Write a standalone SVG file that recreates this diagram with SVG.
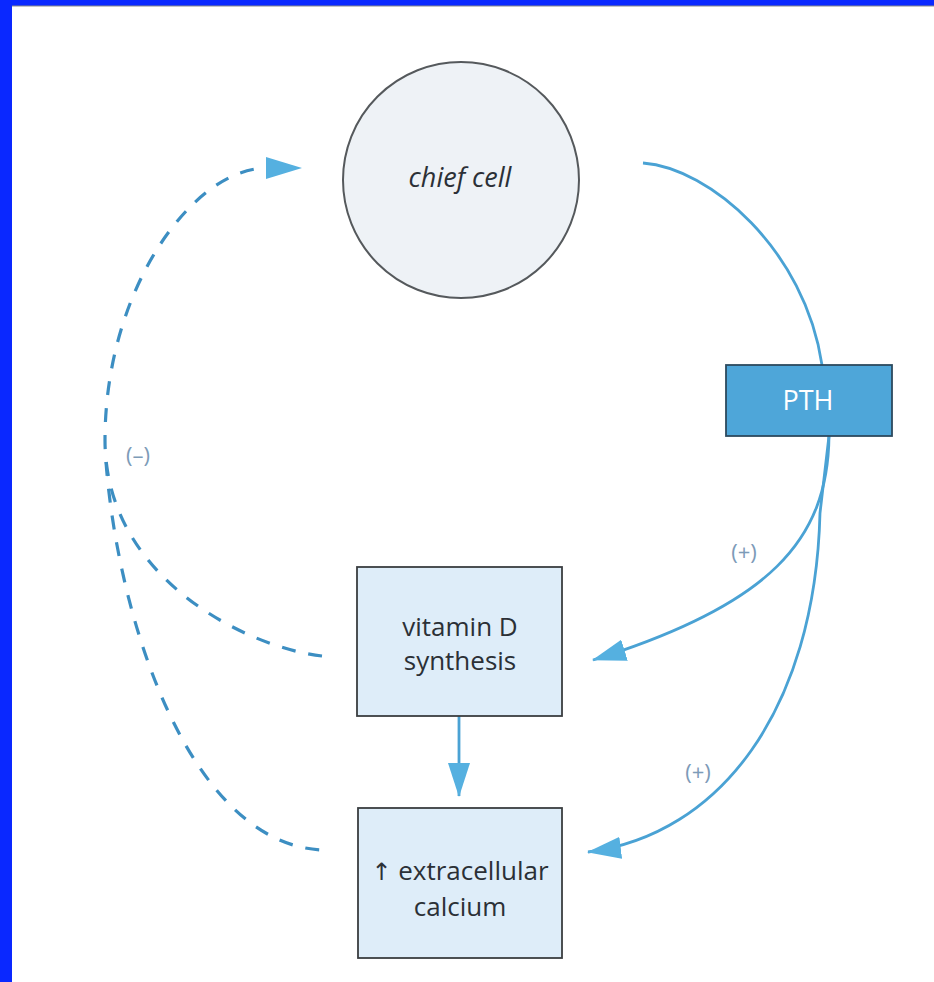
<svg xmlns="http://www.w3.org/2000/svg" width="934" height="982" viewBox="0 0 934 982">
<defs>
<style>
.txt{font-family:"Open Sans","Noto Sans","Liberation Sans",sans-serif;fill:#2b3036;text-anchor:middle}
.lbl{font-family:"Open Sans","Noto Sans","Liberation Sans",sans-serif;fill:#7d9bb8;font-size:22px;text-anchor:middle}
.box{fill:#deedf9;stroke:#3a3d40;stroke-width:1.8}
.solid{fill:none;stroke:#4aa2d4;stroke-width:2.8}
.dash{fill:none;stroke:#3c8ec2;stroke-width:3.2;stroke-dasharray:14 13}
</style>
<marker id="ah" markerUnits="userSpaceOnUse" markerWidth="34" markerHeight="22" refX="33" refY="11" orient="auto" viewBox="0 0 34 22">
<path d="M0,0 L34,11 L0,22 z" fill="#55b0e0"/>
</marker>
<marker id="ahd" markerUnits="userSpaceOnUse" markerWidth="36" markerHeight="22" refX="1" refY="11" orient="0" viewBox="0 0 36 22">
<path d="M0,0 L36,11 L0,22 z" fill="#55b0e0"/>
</marker>
</defs>
<rect x="0" y="0" width="934" height="982" fill="#0a28ff"/>
<rect x="12" y="6" width="922" height="976" fill="#ffffff"/>
<line x1="12" y1="6" x2="934" y2="6" stroke="#8a8a8a" stroke-width="1.2"/>

<g id="connectors">
<path class="solid" d="M643,163 C710,168 805,250 822,365"/>
<path class="solid" d="M829,436 C828,540 770,605 593,660" marker-end="url(#ah)"/>
<path class="solid" d="M829,436 Q824,480 820,513 C815,710 720,835 588,852" marker-end="url(#ah)"/>
<path class="solid" d="M459,716 L459,796" marker-end="url(#ah)"/>
<path class="dash" d="M322,656 C250,648 105,580 105,440 C105,289 193,168 267,168" marker-end="url(#ahd)"/>
<path class="dash" d="M106,462 C118,620 190,845 323,850"/>
</g>

<g id="chief-cell">
<circle cx="461" cy="180" r="118" fill="#eef2f6" stroke="#55595c" stroke-width="2"/>
<text class="txt" x="460" y="187" font-size="27" font-style="italic">chief cell</text>
</g>

<g id="pth">
<rect x="726" y="365" width="166" height="71" fill="#4ea6d9" stroke="#2d4a5e" stroke-width="1.8"/>
<text x="808" y="410" font-family="'Open Sans','Noto Sans','Liberation Sans',sans-serif" font-size="27" fill="#ffffff" text-anchor="middle">PTH</text>
</g>

<g id="vitamin-d">
<rect class="box" x="357" y="567" width="205" height="149"/>
<text class="txt" x="460" y="636" font-size="26">vitamin D</text>
<text class="txt" x="460" y="670" font-size="26">synthesis</text>
</g>

<g id="calcium">
<rect class="box" x="358" y="808" width="204" height="150"/>
<text class="txt" x="460" y="880" font-size="26" xml:space="preserve"><tspan font-family="'DejaVu Sans',sans-serif" font-size="24">↑</tspan> extracellular</text>
<text class="txt" x="460" y="916" font-size="26">calcium</text>
</g>

<g id="labels">
<text class="lbl" x="138" y="463">(–)</text>
<text class="lbl" x="744" y="560">(+)</text>
<text class="lbl" x="698" y="780">(+)</text>
</g>
</svg>
